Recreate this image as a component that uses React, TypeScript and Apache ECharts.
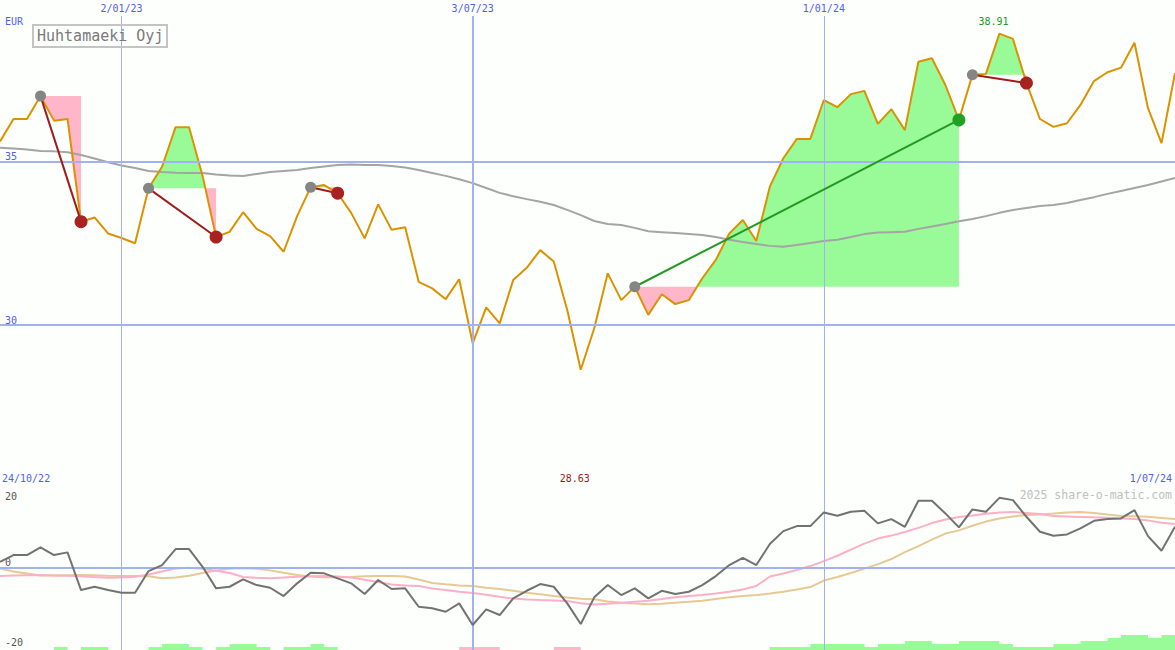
import React, { useEffect, useRef } from "react";
import * as echarts from "echarts";

const dates = [
  "31/10/22", "7/11/22", "14/11/22", "21/11/22", "28/11/22", "5/12/22", "12/12/22", "19/12/22", "26/12/22",
  "2/01/23", "9/01/23", "16/01/23", "23/01/23", "30/01/23", "6/02/23", "13/02/23", "20/02/23", "27/02/23",
  "6/03/23", "13/03/23", "20/03/23", "27/03/23", "3/04/23", "10/04/23", "17/04/23", "24/04/23", "1/05/23",
  "8/05/23", "15/05/23", "22/05/23", "29/05/23", "5/06/23", "12/06/23", "19/06/23", "26/06/23", "3/07/23",
  "10/07/23", "17/07/23", "24/07/23", "31/07/23", "7/08/23", "14/08/23", "21/08/23", "28/08/23", "4/09/23",
  "11/09/23", "18/09/23", "25/09/23", "2/10/23", "9/10/23", "16/10/23", "23/10/23", "30/10/23", "6/11/23",
  "13/11/23", "20/11/23", "27/11/23", "4/12/23", "11/12/23", "18/12/23", "25/12/23", "1/01/24", "8/01/24",
  "15/01/24", "22/01/24", "29/01/24", "5/02/24", "12/02/24", "19/02/24", "26/02/24", "4/03/24", "11/03/24",
  "18/03/24", "25/03/24", "1/04/24", "8/04/24", "15/04/24", "22/04/24", "29/04/24", "6/05/24", "13/05/24",
  "20/05/24", "27/05/24", "3/06/24", "10/06/24", "17/06/24", "24/06/24", "1/07/24",
];

const price = [
  35.61, 36.30, 36.30, 37.00, 36.25, 36.30, 33.16, 33.29, 32.80, 32.66,
  32.50, 34.18, 34.84, 36.05, 36.05, 34.56, 32.69, 32.85, 33.45, 32.94,
  32.72, 32.24, 33.33, 34.21, 34.28, 34.03, 33.43, 32.65, 33.69, 32.91,
  32.99, 31.32, 31.12, 30.79, 31.40, 29.44, 30.54, 30.05, 31.38, 31.75,
  32.29, 31.94, 30.46, 28.63, 29.90, 31.58, 30.76, 31.17, 30.31, 30.94,
  30.64, 30.76, 31.43, 31.99, 32.80, 33.21, 32.57, 34.23, 35.10, 35.69,
  35.69, 36.88, 36.66, 37.06, 37.16, 36.15, 36.60, 35.96, 38.05, 38.16,
  37.34, 36.27, 37.65, 37.68, 38.91, 38.75, 37.40, 36.30, 36.06, 36.17,
  36.73, 37.46, 37.73, 37.87, 38.63, 36.63, 35.56, 37.70,
];

const movingAvg = [
  35.42, 35.40, 35.37, 35.32, 35.31, 35.28, 35.20, 35.09, 34.98, 34.88,
  34.80, 34.71, 34.68, 34.66, 34.65, 34.65, 34.60, 34.57, 34.56, 34.62,
  34.68, 34.71, 34.74, 34.80, 34.85, 34.89, 34.91, 34.89, 34.89, 34.86,
  34.82, 34.74, 34.65, 34.56, 34.46, 34.34, 34.19, 34.04, 33.94, 33.85,
  33.77, 33.67, 33.52, 33.36, 33.18, 33.09, 33.06, 32.97, 32.87, 32.84,
  32.81, 32.78, 32.75, 32.69, 32.61, 32.54, 32.48, 32.42, 32.39, 32.45,
  32.51, 32.57, 32.61, 32.69, 32.78, 32.83, 32.84, 32.85, 32.94, 33.01,
  33.09, 33.17, 33.24, 33.33, 33.43, 33.52, 33.58, 33.64, 33.67, 33.73,
  33.82, 33.91, 34.01, 34.10, 34.19, 34.28, 34.39, 34.50,
];

const oscGray = [
  1.55, 3.33, 3.33, 5.39, 3.33, 4.05, -6.0, -5.12, -6.0, -6.72,
  -6.72, -0.93, 0.67, 4.93, 4.93, 0.21, -5.55, -5.12, -3.15, -4.67,
  -5.39, -7.6, -4.21, -1.39, -1.55, -2.88, -4.21, -7.07, -3.33, -5.73,
  -5.55, -10.45, -10.88, -11.79, -9.55, -15.33, -11.15, -12.67, -8.21, -6.19,
  -4.4, -5.12, -9.55, -15.07, -7.95, -4.67, -7.33, -5.55, -8.21, -6.19,
  -7.07, -6.45, -4.67, -2.27, 0.67, 2.61, 0.67, 6.27, 9.73, 11.07,
  11.07, 14.72, 13.81, 14.88, 15.15, 11.79, 12.93, 10.88, 17.81, 17.81,
  14.45, 10.72, 15.52, 14.88, 18.61, 18.0, 13.55, 9.55, 8.48, 8.85,
  10.45, 12.48, 12.93, 13.12, 15.33, 8.4, 4.48, 10.88,
];

const oscPink = [
  -2.27, -2.13, -2.05, -2.0, -2.1, -2.21, -2.32, -2.53, -2.72, -2.67,
  -2.48, -1.87, -1.07, -0.27, -0.08, -0.35, -0.88, -1.47, -2.53, -2.75,
  -2.85, -2.67, -2.48, -2.35, -2.27, -2.4, -2.67, -3.23, -3.87, -4.51,
  -4.77, -4.93, -5.6, -6.0, -6.45, -6.8, -7.25, -7.81, -8.27, -8.51,
  -8.67, -8.8, -8.93, -9.52, -9.87, -9.68, -9.39, -9.15, -8.85, -8.4,
  -7.92, -7.6, -7.33, -6.93, -6.43, -5.87, -4.93, -2.4, -1.6, -0.67,
  0.4, 1.73, 3.15, 4.8, 6.4, 7.73, 8.53, 9.47, 10.59, 11.87,
  12.85, 13.47, 13.87, 14.35, 14.67, 14.85, 14.59, 14.27, 13.73, 13.63,
  13.52, 13.41, 13.31, 13.12, 12.93, 12.59, 11.95, 11.6,
];

const oscTan = [
  -0.21, -1.07, -1.6, -2.13, -2.13, -2.05, -2.0, -2.08, -2.21, -2.27,
  -2.27, -2.32, -2.88, -2.67, -2.21, -1.47, -0.8, -0.35, -0.21, -0.35,
  -0.75, -1.39, -2.0, -2.4, -2.61, -2.61, -2.53, -2.32, -2.27, -2.27,
  -2.4, -3.2, -4.13, -4.48, -4.8, -4.93, -5.41, -5.73, -6.16, -6.72,
  -7.15, -7.6, -8.0, -8.35, -8.48, -9.07, -9.36, -9.6, -9.79, -9.63,
  -9.39, -9.15, -8.85, -8.4, -7.95, -7.6, -7.33, -6.93, -6.48, -5.87,
  -5.2, -3.47, -2.53, -1.47, -0.27, 0.93, 2.27, 4.13, 5.73, 7.47,
  9.07, 9.92, 11.15, 12.27, 13.07, 13.65, 14.0, 14.19, 14.4, 14.67,
  14.85, 14.53, 14.13, 13.79, 13.68, 13.57, 13.25, 12.93,
];

const greenBars = [
  0, 0, 0, 0, 1, 0, 1, 1, 0, 0,
  0, 1, 2, 2, 1, 0, 1, 2, 2, 1,
  0, 1, 1, 2, 1, 0, 0, 0, 0, 0,
  0, 0, 0, 0, 0, 0, 0, 0, 0, 0,
  0, 0, 0, 0, 0, 0, 0, 0, 0, 0,
  0, 0, 0, 0, 0, 0, 0, 1, 1, 1,
  2, 2, 2, 2, 1, 2, 2, 3, 3, 2,
  2, 3, 3, 3, 2, 1, 1, 1, 2, 2,
  3, 3, 4, 5, 5, 4, 5, 5,
];

const pinkBars = [
  0, 0, 0, 0, 0, 0, 0, 0, 0, 0,
  0, 0, 0, 0, 0, 0, 0, 0, 0, 0,
  0, 0, 0, 0, 0, 0, 0, 0, 0, 0,
  0, 0, 0, 0, 1, 1, 1, 0, 0, 0,
  0, 1, 1, 0, 0, 0, 0, 0, 0, 0,
  0, 0, 0, 0, 0, 0, 0, 0, 0, 0,
  0, 0, 0, 0, 0, 0, 0, 0, 0, 0,
  0, 0, 0, 0, 0, 0, 0, 0, 0, 0,
  0, 0, 0, 0, 0, 0, 0, 0,
];

const tradeEntry = [3, 11, 23, 47, 72];
const tradeExit = [6, 16, 25, 71, 76];

const priceTicks = [30, 35];
const oscTicks = [-20, 0, 20];
const dateMarks = ["2/01/23", "3/07/23", "1/01/24"];
const dateMarkWidths = [1, 2, 1];
const titleText = "Huhtamaeki Oyj";
const currencyText = "EUR";
const startText = "24/10/22";
const endText = "1/07/24";
const creditText = "2025 share-o-matic.com";

const MONO = '"DejaVu Sans Mono", monospace';
const BLUE = "#5060ee";
const GRID_BLUE = "#a3b1f2";
const BG = "#fcfffc";
const GREEN_FILL = "#98fb98";
const PINK_FILL = "#ffb6c8";

export default function App() {
  const ref = useRef<HTMLDivElement>(null);

  useEffect(() => {
    document.body.style.margin = "0";
    const chart = echarts.init(ref.current!, undefined, { renderer: "svg" });

    const vLines = dateMarks.map((d, i) => ({ xAxis: d, lineStyle: { width: dateMarkWidths[i] } }));

    const tradeSeries = tradeEntry.map((e, t) => {
      const x = tradeExit[t];
      const gain = price[x] > price[e];
      return {
        type: "line",
        xAxisIndex: 0,
        yAxisIndex: 0,
        z: 6,
        silent: true,
        connectNulls: true,
        symbol: "circle",
        showSymbol: true,
        showAllSymbol: true,
        lineStyle: { color: gain ? "#229922" : "#a01c1c", width: 2 },
        data: dates.map((_, k) =>
          k === e
            ? { value: price[e], symbolSize: 11, itemStyle: { color: "#858585" } }
            : k === x
            ? { value: price[x], symbolSize: 13, itemStyle: { color: gain ? "#22a022" : "#a82222" } }
            : "-"
        ),
      };
    });

    const option: any = {
      animation: false,
      backgroundColor: BG,
      title: {
        text: titleText,
        left: 33,
        top: 25,
        padding: [3, 4],
        borderColor: "#c4c4c4",
        borderWidth: 2,
        textStyle: { fontFamily: MONO, fontSize: 15, fontWeight: "normal", color: "#7a7a7a", lineHeight: 16 },
      },
      grid: [
        { left: 0, right: 0, top: 16, height: 472.5 },
        { left: 0, right: 0, top: 487, height: 163 },
        { left: 0, right: 0, top: 600, height: 50 },
      ],
      xAxis: [
        {
          gridIndex: 0,
          type: "category",
          data: dates,
          boundaryGap: false,
          position: "top",
          axisLine: { show: false },
          axisTick: { show: false },
          splitLine: { show: false },
          axisLabel: {
            interval: (i: number) => dateMarks.includes(dates[i]),
            color: BLUE,
            fontFamily: MONO,
            fontSize: 10,
            margin: 3,
          },
        },
        {
          gridIndex: 1,
          type: "category",
          data: dates,
          boundaryGap: false,
          position: "top",
          axisLine: { show: true, lineStyle: { color: "#7383ea", width: 2 } },
          axisTick: { show: false },
          axisLabel: { show: false },
          splitLine: { show: false },
        },
        {
          gridIndex: 2,
          type: "category",
          data: dates,
          boundaryGap: false,
          show: false,
        },
      ],
      yAxis: [
        {
          gridIndex: 0,
          type: "value",
          min: 25,
          max: 39.45,
          axisLine: { show: false },
          axisTick: { show: false, customValues: priceTicks },
          splitLine: { show: false },
          axisLabel: {
            inside: true,
            customValues: priceTicks,
            color: BLUE,
            fontFamily: MONO,
            fontSize: 10,
            margin: 5,
            verticalAlign: "bottom",
          },
        },
        {
          gridIndex: 1,
          type: "value",
          min: -22,
          max: 21.5,
          axisLine: { show: false },
          axisTick: { show: false, customValues: oscTicks },
          splitLine: { show: false },
          axisLabel: {
            inside: true,
            customValues: oscTicks,
            color: "#555555",
            fontFamily: MONO,
            fontSize: 10,
            margin: 5,
            formatter: (v: number) => (v === 0 ? "{up|0}" : v === 20 ? "{dn|20}" : String(v)),
            rich: {
              up: { padding: [0, 0, 11, 0], color: "#555555", fontFamily: MONO, fontSize: 10 },
              dn: { padding: [7, 0, 0, 0], color: "#555555", fontFamily: MONO, fontSize: 10 },
            },
          },
        },
        {
          gridIndex: 2,
          type: "value",
          min: 0,
          max: 50 / 3,
          show: false,
        },
      ],
      graphic: [
        { type: "text", left: 5, top: 16, z: 10, style: { text: currencyText, fill: BLUE, font: `10px ${MONO}` } },
        { type: "text", left: 2, top: 473, z: 10, style: { text: startText, fill: BLUE, font: `10px ${MONO}` } },
        { type: "text", right: 3, top: 473, z: 10, style: { text: endText, fill: BLUE, font: `10px ${MONO}` } },
        { type: "text", right: 3, top: 489, z: 10, style: { text: creditText, fill: "#c0c0c0", font: `11.5px ${MONO}` } },
      ],
      series: [
        {
          type: "line",
          xAxisIndex: 0,
          yAxisIndex: 0,
          z: 1,
          silent: true,
          data: price,
          symbol: "none",
          lineStyle: { opacity: 0 },
          markLine: {
            silent: true,
            symbol: ["none", "none"],
            label: { show: false },
            lineStyle: { color: GRID_BLUE, type: "solid", width: 2 },
            data: [...priceTicks.map((v) => ({ yAxis: v })), ...vLines],
          },
        },
        {
          type: "custom",
          xAxisIndex: 0,
          yAxisIndex: 0,
          z: 2,
          silent: true,
          encode: { x: 0, y: 1 },
          data: tradeEntry.map((e) => [e, price[e]]),
          renderItem: (params: any, api: any) => {
            const i = params.dataIndex;
            const e = tradeEntry[i];
            const x = tradeExit[i];
            const E = price[e];
            const pts: { k: number; v: number }[] = [];
            for (let k = e; k <= x; k++) {
              if (k > e) {
                const a = price[k - 1];
                const b = price[k];
                if ((a - E) * (b - E) < 0) {
                  const t = (a - E) / (a - b);
                  pts.push({ k: k - 1 + t, v: E });
                }
              }
              pts.push({ k, v: price[k] });
            }
            const toPix = (k: number, v: number) => {
              const k0 = Math.floor(k);
              const t = k - k0;
              const p0 = api.coord([k0, v]);
              if (t === 0) return p0;
              const p1 = api.coord([k0 + 1, v]);
              return [p0[0] + (p1[0] - p0[0]) * t, p0[1]];
            };
            const children: any[] = [];
            let run: { k: number; v: number }[] | null = null;
            let runSign = 0;
            const flush = () => {
              if (!run) return;
              const first = run[0];
              const last = run[run.length - 1];
              const poly = [toPix(first.k, E), ...run.map((p) => toPix(p.k, p.v)), toPix(last.k, E)];
              children.push({
                type: "polygon",
                shape: { points: poly },
                style: { fill: runSign > 0 ? GREEN_FILL : PINK_FILL, stroke: null },
              });
              run = null;
            };
            for (let s = 0; s < pts.length - 1; s++) {
              const a = pts[s];
              const b = pts[s + 1];
              const mid = (a.v + b.v) / 2 - E;
              const sign = mid > 0 ? 1 : mid < 0 ? -1 : 0;
              if (sign === 0) continue;
              if (run && sign === runSign && run[run.length - 1] === a) {
                run.push(b);
              } else {
                flush();
                run = [a, b];
                runSign = sign;
              }
            }
            flush();
            return { type: "group", children };
          },
        },
        {
          type: "line",
          xAxisIndex: 0,
          yAxisIndex: 0,
          z: 3,
          silent: true,
          data: movingAvg,
          symbol: "none",
          lineStyle: { color: "#a4a4a4", width: 2 },
        },
        {
          type: "line",
          xAxisIndex: 0,
          yAxisIndex: 0,
          z: 4,
          silent: true,
          data: price,
          symbol: "none",
          lineStyle: { color: "#dc9200", width: 2 },
          markPoint: {
            silent: true,
            symbol: "circle",
            symbolSize: 0,
            data: [
              {
                type: "max",
                label: {
                  show: true,
                  position: "top",
                  distance: 7,
                  offset: [-6, 0],
                  color: "#229922",
                  fontFamily: MONO,
                  fontSize: 10,
                  formatter: (p: any) => Number(p.value).toFixed(2),
                },
              },
              {
                type: "min",
                label: {
                  show: true,
                  position: "bottom",
                  distance: 104,
                  offset: [-6, 0],
                  color: "#a01818",
                  fontFamily: MONO,
                  fontSize: 10,
                  formatter: (p: any) => Number(p.value).toFixed(2),
                },
              },
            ],
          },
        },
        ...tradeSeries,
        {
          type: "line",
          xAxisIndex: 1,
          yAxisIndex: 1,
          z: 1,
          silent: true,
          data: oscGray,
          symbol: "none",
          lineStyle: { opacity: 0 },
          markLine: {
            silent: true,
            symbol: ["none", "none"],
            label: { show: false },
            lineStyle: { color: GRID_BLUE, type: "solid", width: 2 },
            data: [{ yAxis: 0 }, ...vLines],
          },
        },
        {
          type: "line",
          xAxisIndex: 2,
          yAxisIndex: 2,
          z: 2,
          silent: true,
          step: "end",
          data: greenBars,
          symbol: "none",
          lineStyle: { width: 0 },
          areaStyle: { color: GREEN_FILL, opacity: 1 },
        },
        {
          type: "line",
          xAxisIndex: 2,
          yAxisIndex: 2,
          z: 2,
          silent: true,
          step: "end",
          data: pinkBars,
          symbol: "none",
          lineStyle: { width: 0 },
          areaStyle: { color: PINK_FILL, opacity: 1 },
        },
        {
          type: "line",
          xAxisIndex: 1,
          yAxisIndex: 1,
          z: 3,
          silent: true,
          data: oscTan,
          symbol: "none",
          lineStyle: { color: "#e6c994", width: 2 },
        },
        {
          type: "line",
          xAxisIndex: 1,
          yAxisIndex: 1,
          z: 4,
          silent: true,
          data: oscPink,
          symbol: "none",
          lineStyle: { color: "#fbb0c6", width: 2 },
        },
        {
          type: "line",
          xAxisIndex: 1,
          yAxisIndex: 1,
          z: 5,
          silent: true,
          data: oscGray,
          symbol: "none",
          lineStyle: { color: "#727272", width: 2 },
        },
      ],
    };

    chart.setOption(option);
    return () => chart.dispose();
  }, []);

  return (
    <div
      ref={ref}
      style={{ position: "absolute", left: 0, top: 0, width: 1175, height: 650, background: BG }}
    />
  );
}
